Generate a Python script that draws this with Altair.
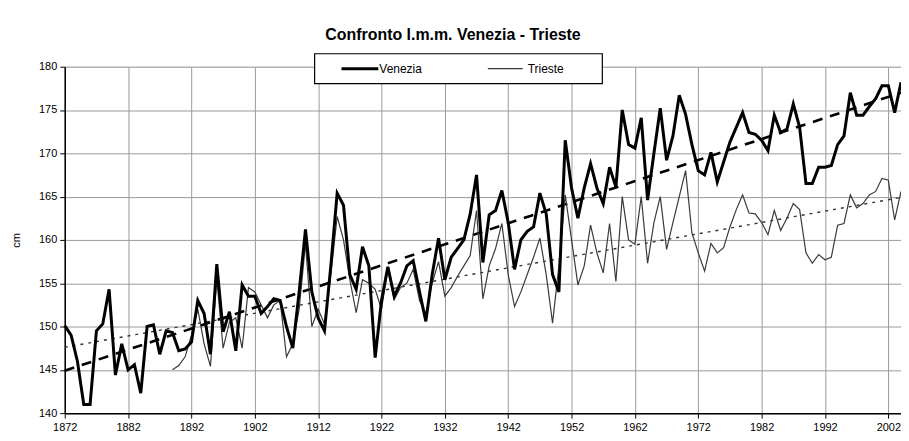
import altair as alt
import pandas as pd

# ---- data ----
venezia_start = 1872
venezia = [
    150.1, 149.0, 146.0, 141.0, 141.0, 149.5, 150.3, 154.3, 144.4, 148.0,   # 1872-1881
    145.0, 145.6, 142.3, 150.0, 150.2, 146.8, 149.5, 149.3, 147.2, 147.4,   # 1882-1891
    148.2, 153.0, 151.5, 146.8, 157.2, 149.4, 151.7, 147.2, 154.8, 153.5,   # 1892-1901
    153.5, 151.5, 152.3, 153.2, 153.0, 150.0, 147.5, 154.0, 161.2, 154.0,   # 1902-1911
    151.0, 149.5, 157.0, 165.4, 164.0, 156.0, 154.3, 159.2, 157.0, 146.4,   # 1912-1921
    153.0, 156.9, 153.5, 155.0, 157.0, 157.6, 154.0, 150.6, 156.0, 160.2,   # 1922-1931
    155.4, 158.0, 159.0, 160.0, 163.0, 167.5, 157.4, 162.9, 163.4, 165.7,   # 1932-1941
    162.0, 156.6, 160.0, 161.0, 161.5, 165.4, 163.0, 156.0, 154.0, 171.5,   # 1942-1951
    166.0, 162.5, 166.0, 168.8, 166.0, 164.2, 168.4, 166.1, 175.0, 171.0,   # 1952-1961
    170.6, 174.1, 164.6, 170.0, 175.2, 169.2, 172.0, 176.7, 174.5, 171.0,   # 1962-1971
    168.0, 167.5, 170.1, 166.7, 169.0, 171.3, 173.0, 174.7, 172.4, 172.2,   # 1972-1981
    171.5, 170.3, 174.4, 172.4, 172.8, 175.7, 173.0, 166.5, 166.5, 168.4,   # 1982-1991
    168.4, 168.6, 171.0, 172.0, 177.0, 174.4, 174.4, 175.4, 176.3, 177.8,   # 1992-2001
    177.8, 174.7, 178.2,                                                     # 2002-2004
]
trieste_start = 1889
trieste = [
    145.0, 145.5, 146.5, 149.0, 152.0, 148.0, 145.4, 155.5, 147.5, 150.5,   # 1889-1898
    151.0, 147.5, 154.5, 154.0, 152.5, 151.0, 152.5, 153.0, 146.5, 148.0,   # 1899-1908
    152.0, 159.6, 150.0, 152.0, 150.3, 156.0, 162.7, 160.0, 155.4, 151.6,   # 1909-1918
    155.4, 155.0, 154.3, 152.0, 156.6, 153.1, 154.5, 155.0, 156.6, 153.0,   # 1919-1928
    151.5, 155.0, 157.5, 153.5, 154.5, 155.8, 157.0, 158.2, 163.4, 153.2,   # 1929-1938
    157.0, 159.0, 161.9, 156.0, 152.3, 154.0, 156.0, 158.0, 160.2, 156.0,   # 1939-1948
    150.4, 157.0, 165.2, 160.0, 154.8, 157.0, 161.7, 158.5, 156.2, 161.9,   # 1949-1958
    155.2, 165.0, 160.0, 159.5, 165.0, 157.3, 162.0, 165.0, 158.9, 162.0,   # 1959-1968
    165.0, 168.0, 160.8, 158.5, 156.4, 159.6, 158.5, 159.1, 161.5, 163.5,   # 1969-1978
    165.2, 163.1, 163.0, 162.0, 160.6, 163.4, 161.1, 162.5, 164.2, 163.5,   # 1979-1988
    158.5, 157.3, 158.3, 157.7, 158.0, 161.7, 161.9, 165.2, 163.7, 164.2,   # 1989-1998
    165.2, 165.6, 167.1, 166.9, 162.3, 165.6,                               # 1999-2004
]
trend_years = [1872, 2004]
venezia_trend = [144.9, 177.0]
trieste_trend = [147.6, 164.9]

series_names = ["Venezia", "Trieste"]
x_ticks = [1872, 1882, 1892, 1902, 1912, 1922, 1932, 1942, 1952, 1962, 1972, 1982, 1992, 2002]
y_ticks = [140, 145, 150, 155, 160, 165, 170, 175, 180]
title_text = "Confronto l.m.m. Venezia - Trieste"
y_title = "cm"

# ---- tables ----
ven_df = pd.DataFrame({"year": [venezia_start + i for i in range(len(venezia))],
                       "value": venezia, "series": series_names[0]})
tri_df = pd.DataFrame({"year": [trieste_start + i for i in range(len(trieste))],
                       "value": trieste, "series": series_names[1]})
vt_df = pd.DataFrame({"year": trend_years, "value": venezia_trend})
tt_df = pd.DataFrame({"year": trend_years, "value": trieste_trend})

FONT = "Liberation Sans"

x_enc = alt.X("year:Q",
              scale=alt.Scale(domain=[1872, 2004], nice=False, zero=False),
              axis=alt.Axis(values=x_ticks, format="d", title=None, grid=True,
                            gridColor="#9a9a9a", gridWidth=1,
                            domainColor="black", domainWidth=1.5,
                            tickColor="black", tickSize=5,
                            labelFont=FONT, labelFontSize=11, labelColor="black",
                            labelPadding=3, labelFlush=False))
y_enc = alt.Y("value:Q",
              scale=alt.Scale(domain=[140, 180], nice=False, zero=False),
              axis=alt.Axis(values=y_ticks, title=y_title, grid=True,
                            gridColor="#9a9a9a", gridWidth=1,
                            domainColor="black", domainWidth=1.5,
                            tickColor="black", tickSize=5,
                            labelFont=FONT, labelFontSize=11, labelColor="black",
                            labelPadding=3,
                            titleFont=FONT, titleFontSize=11, titleFontWeight="normal",
                            titleColor="black", titlePadding=17))

ven_line = alt.Chart(ven_df).mark_line(color="black", strokeWidth=3,
                                       strokeJoin="miter").encode(x=x_enc, y=y_enc)
tri_line = alt.Chart(tri_df).mark_line(color="#3a3a3a", strokeWidth=1.2).encode(
    x="year:Q", y="value:Q")
ven_trend = alt.Chart(vt_df).mark_line(color="black", strokeWidth=2.6,
                                       strokeDash=[10, 8]).encode(x="year:Q", y="value:Q")
tri_trend = alt.Chart(tt_df).mark_line(color="#333333", strokeWidth=1.4,
                                       strokeDash=[3, 5]).encode(x="year:Q", y="value:Q")

# ---- legend box (decoration) ----
leg_box = alt.Chart(pd.DataFrame({"k": [0]})).mark_rect(
    fill="white", stroke="black", strokeWidth=1.2).encode(
    x=alt.value(251), x2=alt.value(540), y=alt.value(-13), y2=alt.value(17))
leg_v = alt.Chart(pd.DataFrame({"k": [0]})).mark_rule(color="black", strokeWidth=3).encode(
    x=alt.value(278), x2=alt.value(315), y=alt.value(2))
leg_t = alt.Chart(pd.DataFrame({"k": [0]})).mark_rule(color="#3a3a3a", strokeWidth=1.2).encode(
    x=alt.value(425), x2=alt.value(460), y=alt.value(2))
leg_vt = alt.Chart(pd.DataFrame({"t": [series_names[0]]})).mark_text(
    align="left", baseline="middle", font=FONT, fontSize=12, color="black").encode(
    x=alt.value(316), y=alt.value(2), text="t:N")
leg_tt = alt.Chart(pd.DataFrame({"t": [series_names[1]]})).mark_text(
    align="left", baseline="middle", font=FONT, fontSize=12, color="black").encode(
    x=alt.value(465), y=alt.value(2), text="t:N")

chart = alt.layer(tri_trend, ven_trend, tri_line, ven_line,
                  leg_box, leg_v, leg_t, leg_vt, leg_tt).properties(
    width=840, height=348,
    title=alt.TitleParams(title_text, font=FONT, fontSize=16, fontWeight="bold",
                          color="black", anchor="middle", dx=-30, offset=10),
    autosize=alt.AutoSizeParams(type="none"),
    padding={"left": 57, "top": 58, "right": 0, "bottom": 20},
).configure_view(stroke=None).configure(background="white")

chart.save("out.html", embed_options={"renderer": "svg", "actions": False})
